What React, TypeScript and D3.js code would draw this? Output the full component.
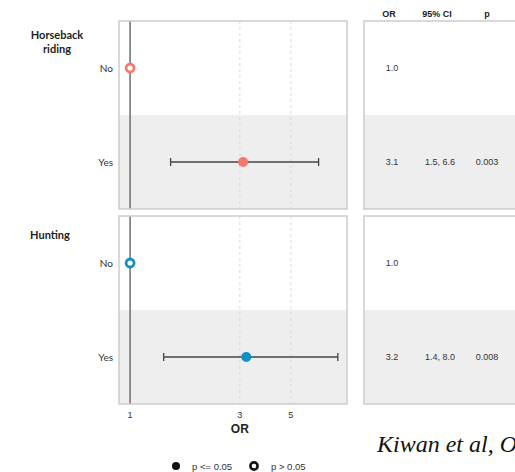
import * as d3 from "d3";

// data
const groups = ["Horseback riding", "Hunting"];
const levels = ["No", "Yes"];
const orValues = [[1.0, 3.1], [1.0, 3.2]];
const ciLow = [[null, 1.5], [null, 1.4]];
const ciHigh = [[null, 6.6], [null, 8.0]];
const pValues = [[null, 0.003], [null, 0.008]];
const groupColors = ["#F8766D", "#0C93C4"];
const xTicks = [1, 3, 5];
const headers = ["OR", "95% CI", "p"];

const W = 515, H = 472;
const PL = 119, PR = 347;   // forest panel
const TL = 364, TR = 530;   // table panel (runs off the page)
const panelTop = [21, 216], panelH = 188;

export default function App() {
  const x = d3.scaleLog().domain([0.895, 8.77]).range([PL, PR]);
  const row = d3.scaleBand().domain(levels).range([0, panelH]);
  const colX = [392, 440, 487];
  const hdrX = [389, 437, 487];
  const sans = "'Liberation Sans', Arial, sans-serif";
  const lato = "Lato, 'Open Sans', sans-serif";

  return (
    <svg width={W} height={H} style={{ position: "absolute", left: 0, top: 0, background: "#fff" }}>
      {/* table headers */}
      {headers.map((h, i) => (
        <text key={h} x={hdrX[i]} y={17} textAnchor="middle" fontFamily={sans}
          fontWeight="bold" fontSize={9} fill="#222">{h}</text>
      ))}

      {groups.map((g, gi) => {
        const y0 = panelTop[gi];
        const col = groupColors[gi];
        const words = gi === 0 ? ["Horseback", "riding"] : ["Hunting"];
        return (
          <g key={g}>
            {/* group label */}
            {words.map((w, wi) => (
              <text key={w} x={gi === 0 ? 57 : 50} y={y0 + (gi === 0 ? 18 : 23) + wi * 14}
                textAnchor="middle" fontFamily={lato} fontWeight="bold" fontSize={11} fill="#222">{w}</text>
            ))}

            {/* forest panel */}
            <rect x={PL} y={y0} width={PR - PL} height={panelH} fill="#fff" />
            <rect x={PL} y={y0 + row("Yes")!} width={PR - PL} height={row.bandwidth()} fill="#EEEEEE" />
            {xTicks.filter(t => t !== 1).map(t => (
              <line key={t} x1={x(t)} x2={x(t)} y1={y0} y2={y0 + panelH}
                stroke="#d2d2d2" strokeWidth={0.8} strokeDasharray="3,3" />
            ))}
            <line x1={x(1)} x2={x(1)} y1={y0} y2={y0 + panelH} stroke="#777" strokeWidth={1.6} />
            <rect x={PL} y={y0} width={PR - PL} height={panelH} fill="none" stroke="#cccccc" strokeWidth={1.5} />

            {/* table panel */}
            <rect x={TL} y={y0} width={TR - TL} height={panelH} fill="#fff" />
            <rect x={TL} y={y0 + row("Yes")!} width={TR - TL} height={row.bandwidth()} fill="#EEEEEE" />
            <rect x={TL} y={y0} width={TR - TL} height={panelH} fill="none" stroke="#cccccc" strokeWidth={1.5} />

            {levels.map((lv, li) => {
              const cy = y0 + row(lv)! + row.bandwidth() / 2;
              const or = orValues[gi][li];
              const lo = ciLow[gi][li], hi = ciHigh[gi][li], p = pValues[gi][li];
              const sig = p != null && p <= 0.05;
              return (
                <g key={lv}>
                  <text x={113} y={cy} dy="0.35em" textAnchor="end" fontFamily={lato}
                    fontSize={10} fill="#333">{lv}</text>
                  {lo != null && hi != null && (
                    <g stroke="#444" strokeWidth={1.3}>
                      <line x1={x(lo)} x2={x(hi)} y1={cy} y2={cy} />
                      <line x1={x(lo)} x2={x(lo)} y1={cy - 4} y2={cy + 4} />
                      <line x1={x(hi)} x2={x(hi)} y1={cy - 4} y2={cy + 4} />
                    </g>
                  )}
                  {sig ? (
                    <circle cx={x(or)} cy={cy} r={5} fill={col} />
                  ) : (
                    <circle cx={x(or)} cy={cy} r={4} fill="#fff" stroke={col} strokeWidth={2.8} />
                  )}
                  <text x={colX[0]} y={cy} dy="0.35em" textAnchor="middle" fontFamily={sans}
                    fontSize={9} fill="#333">{or.toFixed(1)}</text>
                  {lo != null && hi != null && (
                    <text x={colX[1]} y={cy} dy="0.35em" textAnchor="middle" fontFamily={sans}
                      fontSize={9} fill="#333">{`${lo.toFixed(1)}, ${hi.toFixed(1)}`}</text>
                  )}
                  {p != null && (
                    <text x={colX[2]} y={cy} dy="0.35em" textAnchor="middle" fontFamily={sans}
                      fontSize={9} fill="#333">{p.toFixed(3)}</text>
                  )}
                </g>
              );
            })}
          </g>
        );
      })}

      {/* x axis */}
      {xTicks.map(t => (
        <text key={t} x={x(t)} y={418} textAnchor="middle" fontFamily={sans} fontSize={9} fill="#333">{t}</text>
      ))}
      <text x={x(3)} y={433} textAnchor="middle" fontFamily={sans} fontWeight="bold" fontSize={12} fill="#222">OR</text>

      {/* legend */}
      <circle cx={176} cy={466} r={4} fill="#111" />
      <text x={192} y={470} fontFamily={sans} fontSize={9.5} fill="#333">{"p <= 0.05"}</text>
      <circle cx={254} cy={466} r={3.6} fill="#fff" stroke="#111" strokeWidth={2.6} />
      <text x={271} y={470} fontFamily={sans} fontSize={9.5} fill="#333">{"p > 0.05"}</text>

      {/* citation */}
      <text x={377} y={452} fontFamily="'Liberation Serif', 'Times New Roman', serif" fontStyle="italic"
        fontSize={24} fill="#111">Kiwan et al, O</text>
    </svg>
  );
}
